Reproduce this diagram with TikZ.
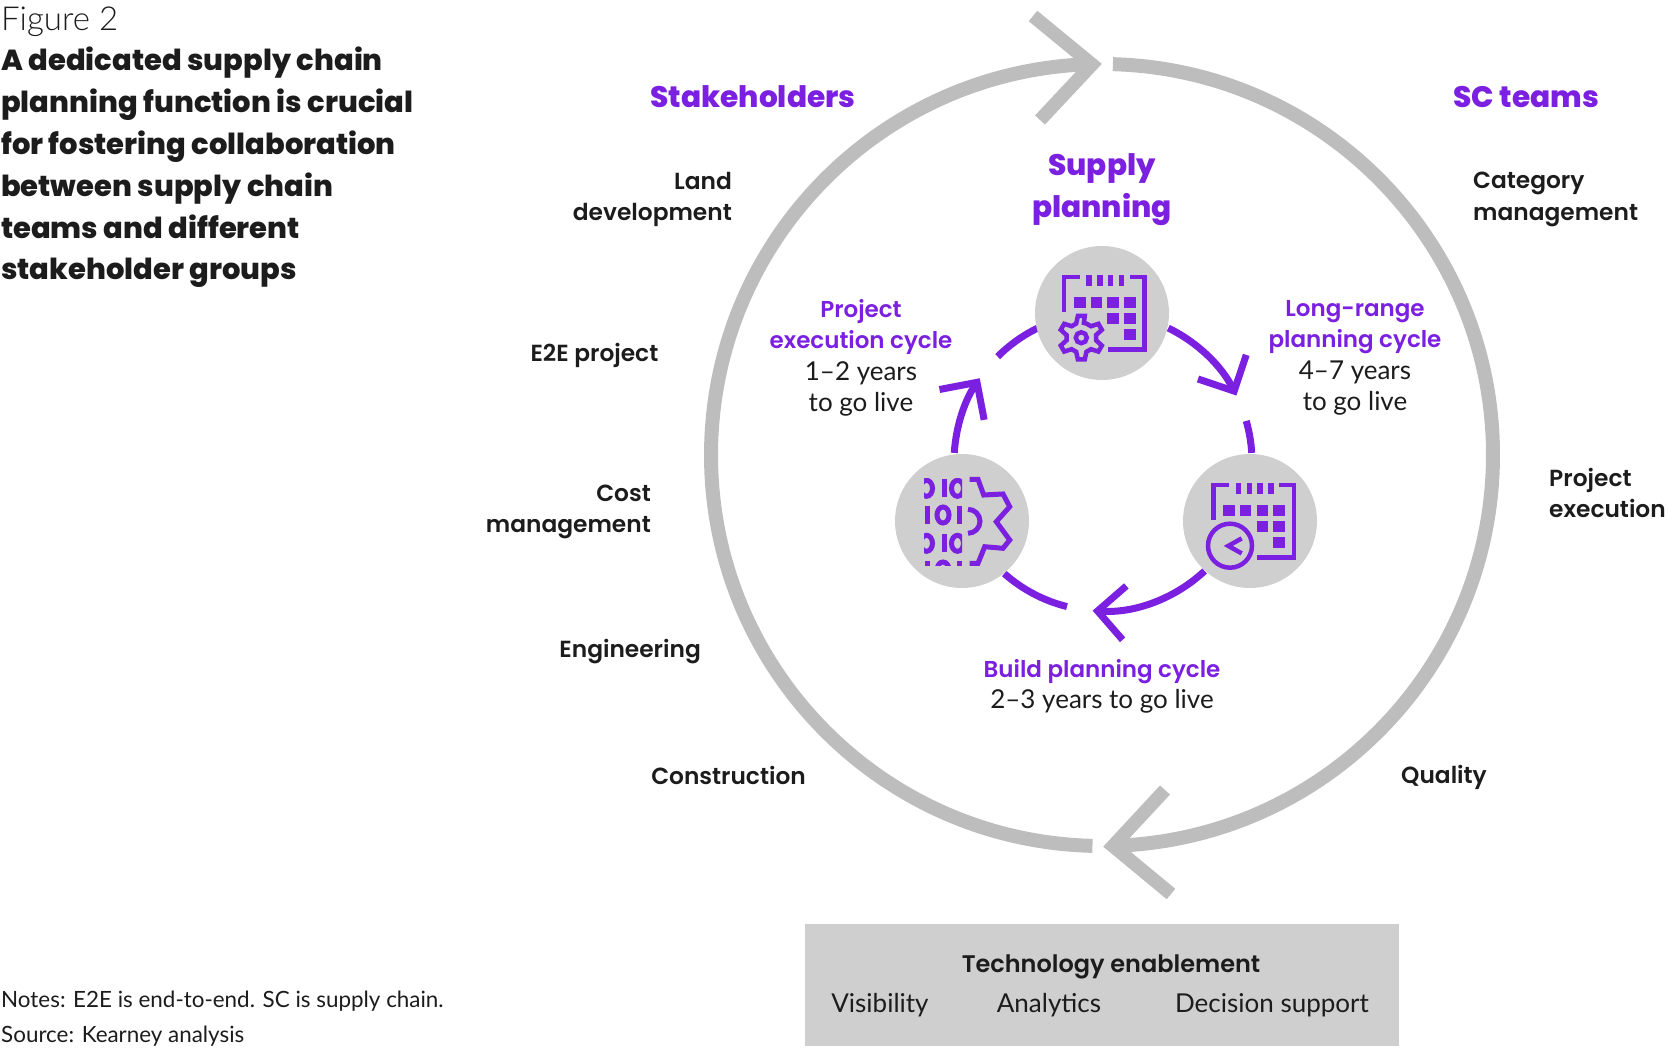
\documentclass[tikz,border=0pt]{standalone}
\usepackage{fontspec}
\setmainfont{Lato}[BoldFont={Poppins SemiBold}]
\newfontfamily\blackfont{Poppins ExtraBold}
\newfontfamily\lightfont{Lato Light}
\usetikzlibrary{arrows.meta}
\definecolor{kpurple}{HTML}{7B1FE0}
\definecolor{ringgrey}{HTML}{BDBDBD}
\definecolor{discgrey}{HTML}{CFCFCF}
\definecolor{inkdark}{HTML}{1C1C1C}
\begin{document}
\begin{tikzpicture}[
  x=1pt, y=1pt,
  bigring/.style={draw=ringgrey, line width=14pt},
  bigarrow/.style={draw=ringgrey, line width=13.5pt, line join=miter},
  smallring/.style={draw=kpurple, line width=7pt},
  smalltip/.style={-{Straight Barb[length=27pt, width=54pt]}},
  icondisc/.style={circle, fill=discgrey, minimum size=134pt, inner sep=0pt},
  grouplabel/.style={text=inkdark, font=\fontsize{23.3}{31.4}\selectfont\bfseries, inner sep=0pt},
  headlabel/.style={text=kpurple, font=\fontsize{29.6}{41.8}\blackfont, align=center},
  cyclelabel/.style={text=inkdark, font=\fontsize{26}{31.4}\selectfont, align=center},
  techlabel/.style={text=inkdark, font=\fontsize{26}{31.4}\selectfont},
  notelabel/.style={text=inkdark, font=\fontsize{22.4}{26}\selectfont, anchor=west, inner sep=0pt},
  calendar/.pic={
    \draw[kpurple, line width=4.5pt] (-38,1) -- (-38,36) -- (-22,36);
    \draw[kpurple, line width=4.5pt] (28,36) -- (42.7,36) -- (42.7,-36.7) -- (6,-36.7);
    % top ticks
    \fill[kpurple] (-15.8,27) rectangle +(5.5,11);
    \fill[kpurple] (-4.8,27) rectangle +(5.5,11);
    \fill[kpurple] (5.8,27) rectangle +(5.5,11);
    \fill[kpurple] (16.8,27) rectangle +(5.5,11);
    % day squares
    \fill[kpurple] (-28,4.6) rectangle +(11.5,11.5);
    \fill[kpurple] (-11.4,4.6) rectangle +(11.5,11.5);
    \fill[kpurple] (5.3,4.6) rectangle +(11.5,11.5);
    \fill[kpurple] (22,4.6) rectangle +(11.5,11.5);
    \fill[kpurple] (5.3,-11.4) rectangle +(11.5,11.5);
    \fill[kpurple] (22,-11.4) rectangle +(11.5,11.5);
    \fill[kpurple] (22,-27.4) rectangle +(11.5,11.5);
  },
  cog/.pic={
    \draw[kpurple, line width=4.5pt, line join=miter, fill=discgrey]
      (80:15) \foreach \a in {90,150,210,270,330,30} {
        -- (\a-9:22) -- (\a+9:22) -- (\a+20:15) -- (\a+40:15)
      } -- cycle;
    \draw[kpurple, line width=4.5pt] (0,0) circle (5.5);
  },
  clockface/.pic={
    \draw[kpurple, line width=4.5pt, fill=discgrey] (0,0) circle (22);
    \draw[kpurple, line width=4.5pt] (11.7,7.3) -- (-1.7,-0.2) -- (11.7,-7.7);
  },
  binarygear/.pic={
    \begin{scope}
      \clip (-38,43) rectangle (0,-44);
      % binary rows
      \draw[kpurple, line width=5pt] (-35.5,32.7) ellipse (6 and 8);
      \draw[kpurple, line width=5pt] (-18,24) -- (-18,42);
      \draw[kpurple, line width=5pt] (-4.5,32.7) ellipse (6 and 8);
      \draw[kpurple, line width=5pt] (-35,-3) -- (-35,15);
      \draw[kpurple, line width=5pt] (-19,6) ellipse (6 and 8);
      \draw[kpurple, line width=5pt] (-3,-3) -- (-3,15);
      \draw[kpurple, line width=5pt] (-35.5,-22.3) ellipse (6 and 8);
      \draw[kpurple, line width=5pt] (-18,-31) -- (-18,-13);
      \draw[kpurple, line width=5pt] (-4.5,-22.3) ellipse (6 and 8);
      \draw[kpurple, line width=5pt] (-35,-58) -- (-35,-40);
      \draw[kpurple, line width=5pt] (-19,-49) ellipse (6 and 8);
      \draw[kpurple, line width=5pt] (-3,-58) -- (-3,-40);
    \end{scope}
    % half gear
    \draw[kpurple, line width=5pt, line join=miter] (7.7,41.7) -- (16,41.7) -- (21.7,26) -- (41,27)
      -- (47.7,14.3) -- (34.3,-0.7) -- (47.7,-19) -- (41,-27.3) -- (22.7,-25.7) -- (16,-42.3) -- (7.7,-42.3);
    \draw[kpurple, line width=5pt] (6,11.7) arc[start angle=90, end angle=-90, radius=12];
  }
]
\useasboundingbox (0,0) rectangle (1668,-1048);

% Caption
\node[text=inkdark, font=\fontsize{33}{36}\lightfont, anchor=west, inner sep=0pt] (figno) at (1,-22) {Figure 2};
\node[text=inkdark, font=\fontsize{29}{41.8}\blackfont, anchor=north west, align=left, inner sep=0pt] (headline) at (1,-47)
  {A dedicated supply chain\\planning function is crucial\\for fostering collaboration\\between supply chain\\teams and different\\stakeholder groups};

% Outer ring
\coordinate (bigc) at (1102,-455);
\coordinate (bigA) at ([shift={(88.4:391)}]bigc);
\coordinate (bigB) at ([shift={(-91.4:391)}]bigc);
\draw[bigring] (bigA) arc[start angle=88.4, end angle=-88.4, radius=391];
\draw[bigring] (bigB) arc[start angle=-91.4, end angle=-268.4, radius=391];

% Outer arrowheads
\coordinate (topvertex) at (1092,-64.5);
\coordinate (topupper) at (1033,-16);
\coordinate (toplower) at (1040,-120);
\coordinate (botvertex) at (1113,-846);
\coordinate (botupper) at (1165,-790);
\coordinate (botlower) at (1171,-894);
\draw[bigarrow] (topupper) -- (topvertex) -- (toplower);
\draw[bigarrow] (botupper) -- (botvertex) -- (botlower);

% Inner ring
\coordinate (smallc) at (1103,-462);
\coordinate (armA) at ([shift={(64:149)}]smallc);
\coordinate (armB) at ([shift={(16:149)}]smallc);
\coordinate (armC) at ([shift={(-47:149)}]smallc);
\coordinate (armD) at ([shift={(-104:149)}]smallc);
\coordinate (armE) at ([shift={(176.5:149)}]smallc);
\coordinate (armF) at ([shift={(135:149)}]smallc);
\draw[smallring, smalltip] (armA) arc[start angle=64, end angle=26.5, radius=149];
\draw[smallring] (armB) arc[start angle=16, end angle=3.5, radius=149];
\draw[smallring, smalltip] (armC) arc[start angle=-47, end angle=-94, radius=149];
\draw[smallring] (armD) arc[start angle=-104, end angle=-131.5, radius=149];
\draw[smallring, smalltip] (armE) arc[start angle=176.5, end angle=145.8, radius=149];
\draw[smallring] (armF) arc[start angle=135, end angle=116, radius=149];

% Icons
\node[icondisc] (disctop) at (1102,-313) {};
\node[icondisc] (discleft) at (962,-521) {};
\node[icondisc, right of=discleft, node distance=288pt] (discright) {};
\pic at (disctop) {calendar};
\pic at ([shift={(-20.7,-24.7)}]disctop) {cog};
\pic at ([shift={(1.3,0)}]discright) {calendar};
\pic at ([shift={(-20,-24.7)}]discright) {clockface};
\pic at (discleft) {binarygear};

% Ring labels
\node[headlabel] (stake) at (753,-97) {Stakeholders};
\node[headlabel] (scteams) at (1526,-97) {SC teams};
\node[headlabel] (supply) at (1102,-190) {Supply\\planning};

\node[grouplabel, anchor=east, align=right] (land) at (732,-199.5) {Land\\development};
\node[grouplabel, anchor=east] (e2e) at (658.5,-355) {E2E project};
\node[grouplabel, anchor=east, align=right] (cost) at (651,-512) {Cost\\management};
\node[grouplabel, anchor=east] (engin) at (701,-652) {Engineering};
\node[grouplabel, anchor=east] (constr) at (806,-775.5) {Construction};
\node[grouplabel, anchor=west, align=left] (categ) at (1473,-199.5) {Category\\management};
\node[grouplabel, anchor=west, align=left] (projex) at (1549,-493) {Project\\execution};
\node[grouplabel, anchor=west] (quality) at (1401,-777) {Quality};

% Cycle labels
\node[cyclelabel] (execcycle) at (861,-358) {\textcolor{kpurple}{\fontsize{23}{31.4}\selectfont\bfseries Project}\\\textcolor{kpurple}{\fontsize{23}{31.4}\selectfont\bfseries execution cycle}\\1--2 years\\to go live};
\node[cyclelabel] (longcycle) at (1355,-358) {\textcolor{kpurple}{\fontsize{23}{31.4}\selectfont\bfseries Long-range}\\\textcolor{kpurple}{\fontsize{23}{31.4}\selectfont\bfseries planning cycle}\\4--7 years\\to go live};
\node[cyclelabel] (buildcycle) at (1102,-686.5) {\textcolor{kpurple}{\fontsize{23}{31.4}\selectfont\bfseries Build planning cycle}\\2--3 years to go live};

% Technology box
\node[fill=discgrey, minimum width=594pt, minimum height=122pt, inner sep=0pt] (techbox) at (1102,-985) {};
\node[text=inkdark, font=\fontsize{24}{30}\selectfont\bfseries] (techhead) at (1111,-967) {Technology enablement};
\node[techlabel] (visib) at (880,-1005) {Visibility};
\node[techlabel, right of=visib, node distance=169pt] (analyt) {Analytics};
\node[techlabel, right of=analyt, node distance=223pt] (decis) {Decision support};

% Notes
\node[notelabel] (notes) at (1,-1001) {Notes: E2E is end-to-end. SC is supply chain.};
\node[notelabel] (source) at (1,-1036) {Source: Kearney analysis};

\end{tikzpicture}
\end{document}
